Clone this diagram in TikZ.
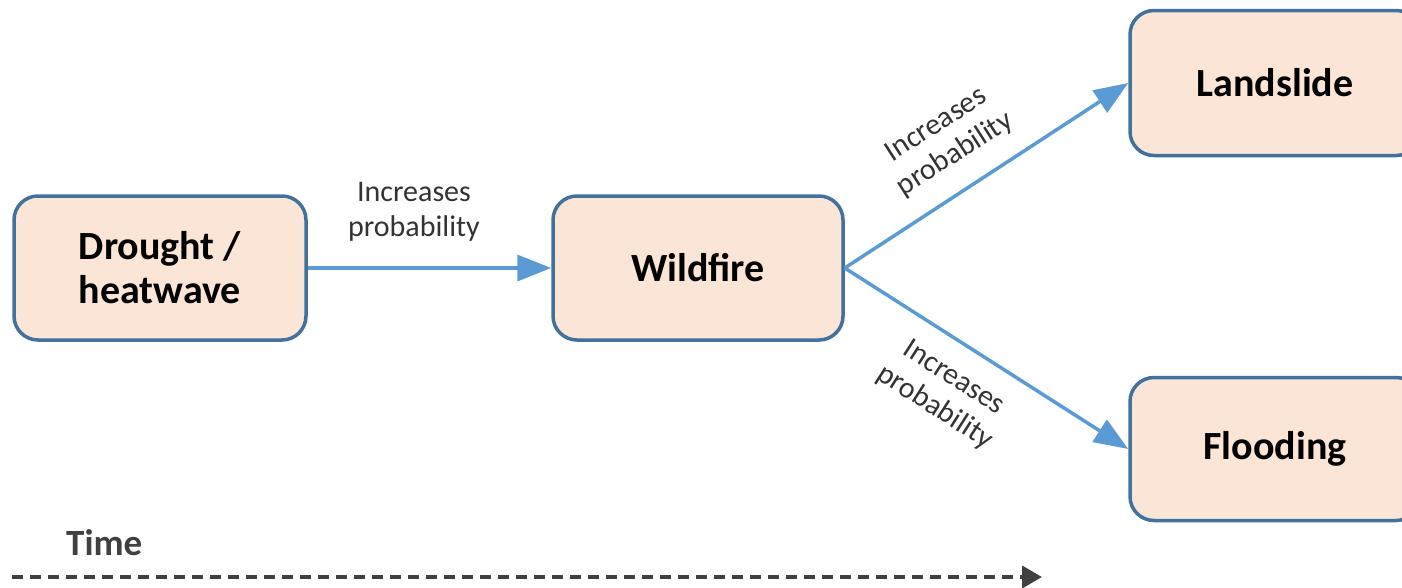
\documentclass[tikz,border=0pt]{standalone}
\usepackage{fontspec}
\setmainfont{Carlito}
\usetikzlibrary{arrows.meta}
\definecolor{boxfill}{HTML}{FBE5D6}
\definecolor{boxline}{HTML}{41719C}
\definecolor{arrowblue}{HTML}{5B9BD5}
\definecolor{timegray}{HTML}{404040}
\tikzset{
  hazard/.style={draw=boxline, line width=3.5pt, fill=boxfill, rounded corners=24pt,
    font=\fontsize{40}{44}\selectfont\bfseries, align=center, inner sep=0pt},
  link/.style={draw=arrowblue, line width=3.5pt, -{Triangle[length=34pt,width=26pt]}},
  linklabel/.style={font=\fontsize{30}{35}\selectfont, text=black!80, align=center, inner sep=0pt}
}
\begin{document}
\begin{tikzpicture}[x=1pt,y=-1pt]
\useasboundingbox (0,0) rectangle (1402,587);
\clip (0,0) rectangle (1402,587);
\node[hazard, minimum width=292pt, minimum height=144pt] (drought) at (160,268) {Drought /\\heatwave};
\node[hazard, minimum width=290pt, minimum height=144pt] (wildfire) at (698,268) {Wildfire};
\node[hazard, minimum width=290pt, minimum height=145pt] (landslide) at (1275,83) {Landslide};
\node[hazard, minimum width=290pt, minimum height=143pt] (flooding) at (1275,449) {Flooding};
\draw[link] (drought.east) -- (wildfire.west);
\draw[link] (wildfire.east) -- (landslide.west);
\draw[link] (wildfire.east) -- (flooding.west);
\node[linklabel] (l1) at (414,212) {Increases\\probability};
\node[linklabel, rotate=32.7] (l2) at (946,140) {Increases\\probability};
\node[linklabel, rotate=-32.7] (l3) at (944,393) {Increases\\probability};
\node[font=\fontsize{37}{40}\selectfont\bfseries, text=timegray, anchor=west, inner sep=0pt] (time) at (66,543) {Time};
\coordinate (t0) at (12,577);
\coordinate (t1) at (1042,577);
\draw[timegray, line width=4pt, dash pattern=on 11pt off 7pt, -{Triangle[length=20pt,width=22pt]}] (t0) -- (t1);
\end{tikzpicture}
\end{document}
